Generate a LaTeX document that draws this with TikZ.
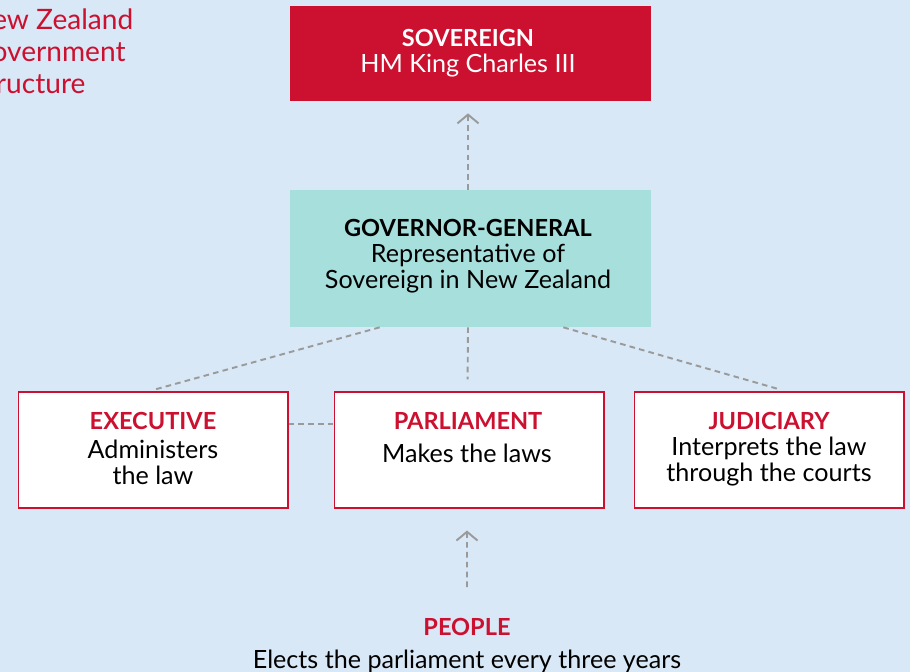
\documentclass[tikz,border=0pt]{standalone}
\usepackage{fontspec}
\setmainfont{Lato}
\usetikzlibrary{arrows.meta}
\definecolor{nzred}{HTML}{CC102F}
\definecolor{nzteal}{HTML}{A6DFDB}
\definecolor{nzsky}{HTML}{D8E8F6}
\definecolor{nzgrey}{HTML}{9A9A9A}
\tikzset{
  box/.style={draw=nzred,fill=white,line width=0.6pt,minimum width=5.4cm,minimum height=2.32cm},
  head/.style={text=nzred,font=\fontsize{13.4}{14.8}\selectfont\bfseries},
  body/.style={align=center,font=\fontsize{14.3}{14.8}\selectfont},
  link/.style={draw=nzgrey,line width=1.1pt,dash pattern=on 3.2pt off 2.4pt},
}
\begin{document}
\begin{tikzpicture}[x=0.02cm,y=-0.02cm,>={Straight Barb[length=5pt,width=12pt,line width=1.1pt]}]
   % background
   \fill[nzsky] (0,0) rectangle (910,672);
   \useasboundingbox (0,0) rectangle (910,672);

   % title
   \node[anchor=west,align=left,text=nzred,font=\fontsize{16}{18.1}\selectfont] (title) at (-35,51)
      {New Zealand\\Government\\Structure};

   % boxes
   \node[fill=nzred,minimum width=7.22cm,minimum height=1.9cm] (sov) at (470.5,53.5) {};
   \node[fill=nzteal,minimum width=7.22cm,minimum height=2.74cm] (gg) at (470.5,258.5) {};
   \node[box] (exec) at (153,450) {};
   \node[box] (parl) at (469,450) {};
   \node[box] (jud) at (769,450) {};

   % texts
   \node[head,text=white] (sovhead) at (468,38) {SOVEREIGN};
   \node[body,text=white] (sovbody) at (468,66) {HM King Charles III};
   \node[head,text=black] (gghead) at (468,228) {GOVERNOR-GENERAL};
   \node[body] (ggbody) at (468,269) {Representative of\\Sovereign in New Zealand};
   \node[head] (exechead) at (153,421) {EXECUTIVE};
   \node[body] (execbody) at (153,462) {Administers\\the law};
   \node[head] (parlhead) at (468,421) {PARLIAMENT};
   \node[body] (parlbody) at (467,453) {Makes the laws};
   \node[head] (judhead) at (769,421) {JUDICIARY};
   \node[body] (judbody) at (769,462) {Interprets the law\\through the courts};
   \node[head] (people) at (467,627) {PEOPLE};
   \node[body] (peoplebody) at (467,661) {Elects the parliament every three years};

   % connectors
   \draw[link,->,shorten >=0.24cm] ([xshift=-0.05cm]gg.north) -- ([xshift=-0.05cm]sov.south);
   \draw[link,shorten >=0.24cm] ([xshift=-0.05cm]gg.south) -- ([xshift=-0.03cm]parl.north);
   \draw[link] ([xshift=1.8cm]gg.south west) -- ([xshift=0.04cm,yshift=0.04cm]exec.north);
   \draw[link] ([xshift=-1.76cm]gg.south east) -- ([xshift=0.22cm,yshift=0.04cm]jud.north);
   \draw[link] ([yshift=0.52cm]exec.east) -- ([yshift=0.52cm]parl.west);
   \draw[link,->,shorten <=0.5cm,shorten >=0.44cm] (people.north) -- ([xshift=-0.04cm]parl.south);
\end{tikzpicture}
\end{document}
